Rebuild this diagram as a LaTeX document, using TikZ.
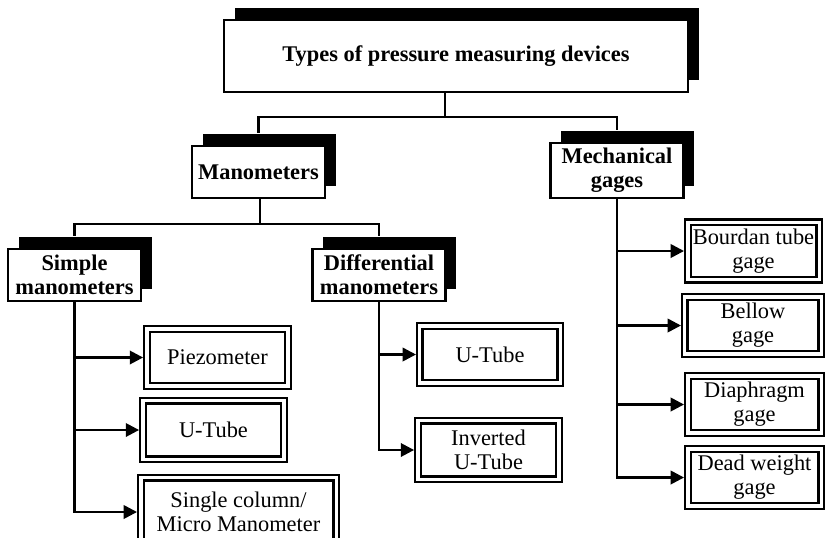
\documentclass[tikz,border=0pt]{standalone}
\usepackage{fontspec}
\setmainfont{Liberation Serif}
\usetikzlibrary{arrows.meta,shadows}
\tikzset{
	headbox/.style={draw, fill=white, line width=1.9pt, align=center, inner sep=1pt,
		font={\fontsize{16.8pt}{18pt}\selectfont\bfseries},
		general shadow={fill=black, shadow xshift=8pt, shadow yshift=9pt}},
	itembox/.style={draw, double, double distance=2.6pt, line width=1.6pt, align=center, inner sep=1pt, minimum height=43pt},
	conn/.style={line width=1.9pt}
}
\begin{document}
\begin{tikzpicture}[x=0.75pt, y=-0.75pt, font={\fontsize{16.8pt}{18pt}\selectfont}, >={Triangle[length=10pt,width=10pt]}]
		\useasboundingbox (0,0) rectangle (825,537);
		% Cac khung chinh
		\node[headbox, minimum width=348pt, minimum height=54pt] (types) at (456,56) {Types of pressure measuring devices};
		\node[headbox, minimum width=99.5pt, minimum height=39pt] (mano) at (258.5,172) {Manometers};
		\node[headbox, minimum width=100pt, minimum height=41pt] (mech) at (617,170.5) {Mechanical\\gages};
		\node[headbox, minimum width=99.5pt, minimum height=39pt] (simp) at (74.5,275) {Simple\\manometers};
		\node[headbox, minimum width=100pt, minimum height=39pt] (diff) at (379,275) {Differential\\manometers};
		% Cac loai
		\node[itembox, minimum width=106pt] (piezo) at (217.5,357.5) {Piezometer};
		\node[itembox, minimum width=106pt, minimum height=44pt] (utubeA) at (213.5,430) {U-Tube};
		\node[itembox, minimum width=146.6pt, minimum height=51.4pt] (single) at (238.5,512) {Single column/\\Micro Manometer};
		\node[itembox, minimum width=105.4pt] (utubeB) at (490,354.5) {U-Tube};
		\node[itembox, minimum width=106pt, minimum height=44pt] (inv) at (488.5,450) {Inverted\\U-Tube};
		\node[itembox, minimum width=98.6pt] (bourdan) at (753.5,251) {Bourdan tube\\gage};
		\node[itembox, minimum width=102.4pt] (bellow) at (753,325.5) {Bellow\\gage};
		\node[itembox, minimum width=100.1pt] (diaph) at (754.5,404.5) {Diaphragm\\gage};
		\node[itembox, minimum width=100.1pt] (dead) at (754.5,477.5) {Dead weight\\gage};
		% Duong noi
		\coordinate (j0) at (445,117);
		\coordinate (j1) at (260,224);
		\draw[conn] (types.south -| j0) -- (j0);
		\draw[conn] ([yshift=9pt]mano.north) |- (j0) -| ([yshift=9pt]mech.north);
		\draw[conn] (mano.south -| j1) -- (j1);
		\draw[conn] ([yshift=9pt]simp.north) |- (j1) -| ([yshift=9pt]diff.north);
		\draw[conn,->,shorten >=2pt] (simp.south) |- (single.west);
		\foreach \n in {piezo,utubeA}
			\draw[conn,->,shorten >=2pt] (simp.south |- \n.west) -- (\n.west);
		\draw[conn,->,shorten >=2pt] (diff.south) |- (inv.west);
		\draw[conn,->,shorten >=2pt] (diff.south |- utubeB.west) -- (utubeB.west);
		\draw[conn,->,shorten >=2pt] (mech.south) |- (dead.west);
		\foreach \n in {bourdan,bellow,diaph}
			\draw[conn,->,shorten >=2pt] (mech.south |- \n.west) -- (\n.west);
	\end{tikzpicture}
\end{document}
